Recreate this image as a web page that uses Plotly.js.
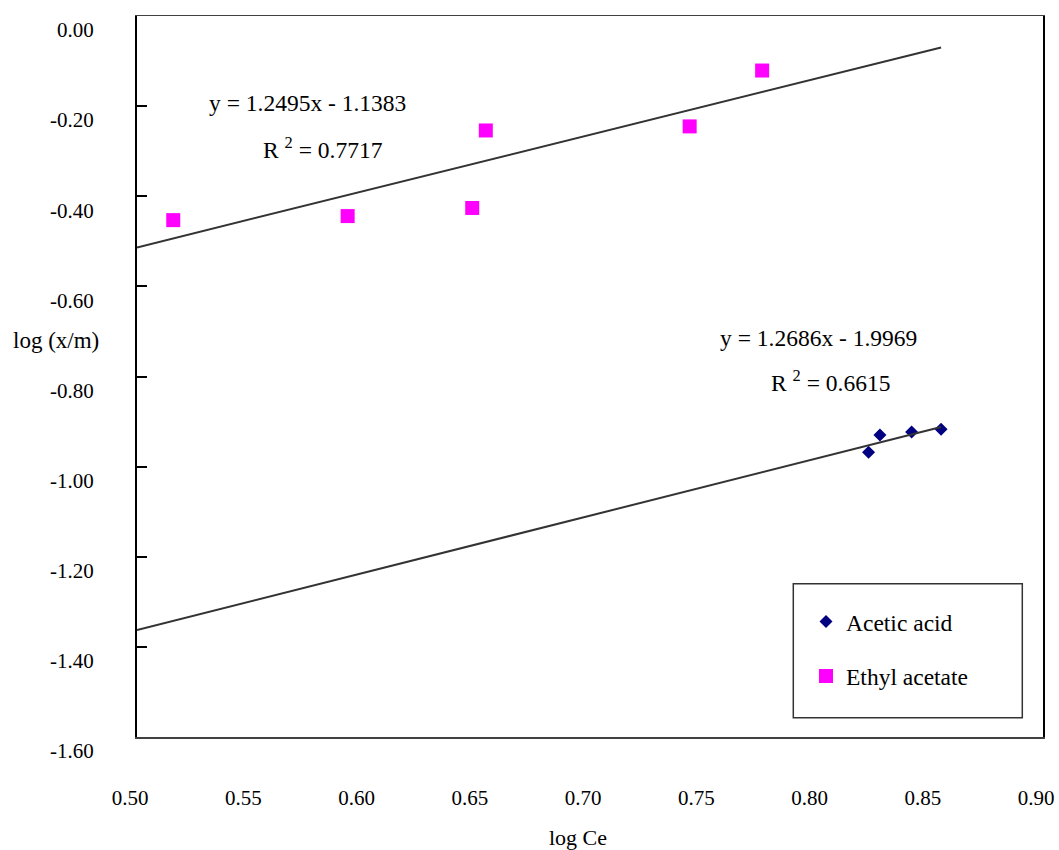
<!DOCTYPE html>
<html>
<head>
<meta charset="utf-8">
<script src="https://cdn.plot.ly/plotly-3.0.1.min.js"></script>
<style>html,body{margin:0;padding:0;background:#fff;}#chart{width:1059px;height:850px;}</style>
</head>
<body>
<div id="chart"></div>
<script>
// ---- data ----
const seriesNames = ["Acetic acid", "Ethyl acetate"];
const aceticX = [0.823, 0.828, 0.842, 0.855];
const aceticY = [-0.968, -0.930, -0.923, -0.917];
const ethylX = [0.516, 0.593, 0.648, 0.654, 0.744, 0.776];
const ethylY = [-0.453, -0.444, -0.426, -0.254, -0.245, -0.121];
// trendline equations (slope, intercept) and drawn x-range
const trendSlopes = [1.2686, 1.2495];
const trendIntercepts = [-1.9969, -1.1383];
const trendRange = [0.5, 0.855];
const equationTexts = ["y = 1.2686x - 1.9969", "y = 1.2495x - 1.1383"];
const r2Texts = ["R <sup>2</sup> = 0.6615", "R <sup>2</sup> = 0.7717"];
const xTickVals = [0.50, 0.55, 0.60, 0.65, 0.70, 0.75, 0.80, 0.85, 0.90];
const yTickVals = [0.0, -0.2, -0.4, -0.6, -0.8, -1.0, -1.2, -1.4, -1.6];
const xTitle = "log Ce";
const yTitle = "log (x/m)";

// ---- layout helpers ----
const W = 1059, H = 850;
const M = {l: 137, r: 16, t: 15.5, b: 112.5};
const PW = W - M.l - M.r, PH = H - M.t - M.b;
const px = x => (x - M.l) / PW;
const py = y => (H - M.b - y) / PH;
const FONT = "Liberation Serif, Times New Roman, serif";

function trendLine(i) {
  return trendRange.map(x => trendSlopes[i] * x + trendIntercepts[i]);
}

const traces = [
  {x: aceticX, y: aceticY, type: "scatter", mode: "markers", name: seriesNames[0],
   marker: {symbol: "diamond", size: 10, color: "#000080"}, legendgroup: "a"},
  {x: ethylX, y: ethylY, type: "scatter", mode: "markers", name: seriesNames[1],
   marker: {symbol: "square", size: 14, color: "#FF00FF"}, legendgroup: "b"},
  {x: trendRange, y: trendLine(0), type: "scatter", mode: "lines", showlegend: false,
   line: {color: "#333333", width: 2}, hoverinfo: "skip"},
  {x: trendRange, y: trendLine(1), type: "scatter", mode: "lines", showlegend: false,
   line: {color: "#333333", width: 2}, hoverinfo: "skip"}
];

const fmt2 = v => v.toFixed(2);
const ANN = 23.5;

const layout = {
  width: W, height: H,
  margin: M,
  paper_bgcolor: "#fff", plot_bgcolor: "#fff",
  font: {family: FONT, size: 21, color: "#000"},
  showlegend: true,
  legend: {
    x: px(806), y: py(600), xanchor: "left", yanchor: "top",
    bgcolor: "rgba(0,0,0,0)", borderwidth: 0,
    font: {family: FONT, size: 23.5, color: "#000"},
    traceorder: "grouped", tracegroupgap: 21
  },
  xaxis: {
    range: [0.5, 0.9], tickvals: xTickVals, ticktext: xTickVals.map(fmt2),
    showgrid: false, zeroline: false, showline: true, mirror: true,
    linecolor: "#404040", linewidth: 1.5, ticks: "",
    tickfont: {family: FONT, size: 21},
    ticklabelstandoff: 41, ticklabelshift: -7
  },
  yaxis: {
    range: [-1.6, 0.0], tickvals: yTickVals, ticktext: yTickVals.map(fmt2),
    showgrid: false, zeroline: false, showline: true, mirror: true,
    linecolor: "#000", linewidth: 2, ticks: "inside", ticklen: 10, tickwidth: 2, tickcolor: "#000",
    tickfont: {family: FONT, size: 21},
    ticklabelstandoff: 37, ticklabelshift: 14
  },
  shapes: [
    {type: "rect", xref: "paper", yref: "paper",
     x0: px(793.3), x1: px(1022.3), y0: py(718.3), y1: py(584),
     line: {color: "#333", width: 1.5}, fillcolor: "rgba(0,0,0,0)"}
  ],
  annotations: [
    {xref: "paper", yref: "paper", x: px(307), y: py(103), text: equationTexts[1],
     showarrow: false, font: {family: FONT, size: ANN}, xanchor: "center", yanchor: "middle"},
    {xref: "paper", yref: "paper", x: px(323), y: py(148), text: r2Texts[1],
     showarrow: false, font: {family: FONT, size: ANN}, xanchor: "center", yanchor: "middle"},
    {xref: "paper", yref: "paper", x: px(818), y: py(338), text: equationTexts[0],
     showarrow: false, font: {family: FONT, size: ANN}, xanchor: "center", yanchor: "middle"},
    {xref: "paper", yref: "paper", x: px(830), y: py(381), text: r2Texts[0],
     showarrow: false, font: {family: FONT, size: ANN}, xanchor: "center", yanchor: "middle"},
    {xref: "paper", yref: "paper", x: px(578), y: py(838), text: xTitle,
     showarrow: false, font: {family: FONT, size: 22}, xanchor: "center", yanchor: "middle"},
    {xref: "paper", yref: "paper", x: px(56), y: py(340), text: yTitle,
     showarrow: false, font: {family: FONT, size: 23}, xanchor: "center", yanchor: "middle"}
  ]
};

Plotly.newPlot("chart", traces, layout, {displayModeBar: false, staticPlot: true});
</script>
</body>
</html>
